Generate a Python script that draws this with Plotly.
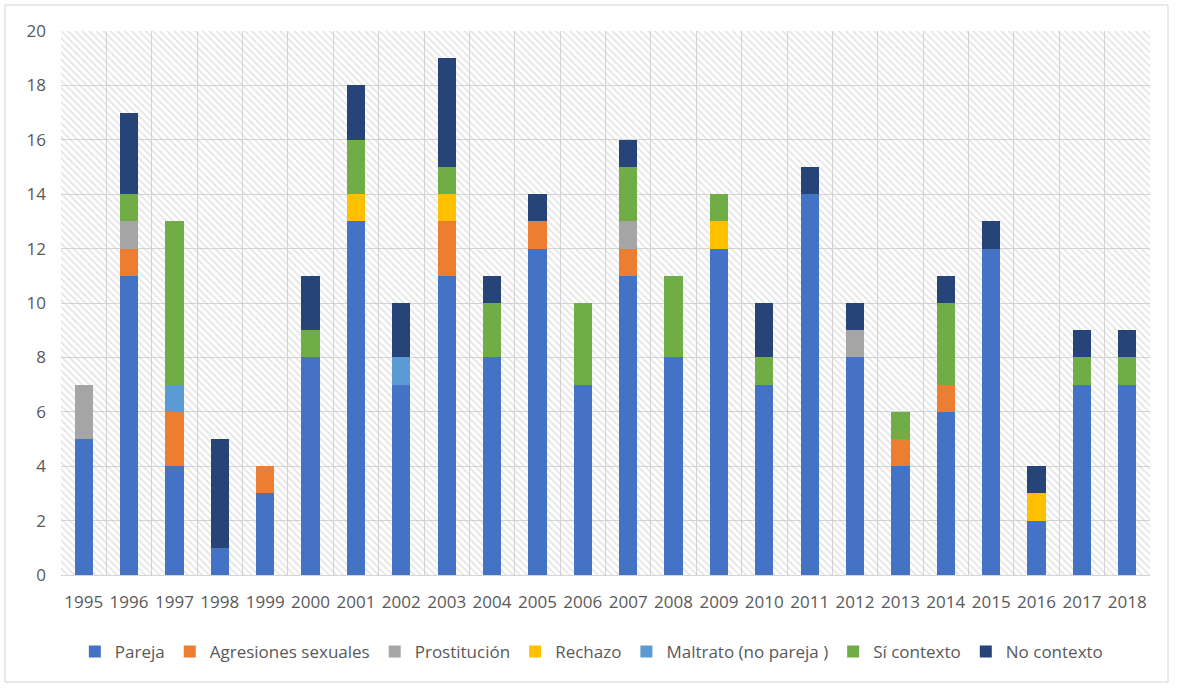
import plotly.graph_objects as go

# Yearly counts by category
years = [str(y) for y in range(1995, 2019)]

pareja =      [5, 11, 4, 1, 3, 8, 13, 7, 11, 8, 12, 7, 11, 8, 12, 7, 14, 8, 4, 6, 12, 2, 7, 7]
agresiones =  [0, 1, 2, 0, 1, 0, 0, 0, 2, 0, 1, 0, 1, 0, 0, 0, 0, 0, 1, 1, 0, 0, 0, 0]
prostitucion = [2, 1, 0, 0, 0, 0, 0, 0, 0, 0, 0, 0, 1, 0, 0, 0, 0, 1, 0, 0, 0, 0, 0, 0]
rechazo =     [0, 0, 0, 0, 0, 0, 1, 0, 1, 0, 0, 0, 0, 0, 1, 0, 0, 0, 0, 0, 0, 1, 0, 0]
maltrato =    [0, 0, 1, 0, 0, 0, 0, 1, 0, 0, 0, 0, 0, 0, 0, 0, 0, 0, 0, 0, 0, 0, 0, 0]
si_contexto = [0, 1, 6, 0, 0, 1, 2, 0, 1, 2, 0, 3, 2, 3, 1, 1, 0, 0, 1, 3, 0, 0, 1, 1]
no_contexto = [0, 3, 0, 4, 0, 2, 2, 2, 4, 1, 1, 0, 1, 0, 0, 2, 1, 1, 0, 1, 1, 1, 1, 1]

series_names = ["Pareja", "Agresiones sexuales", "Prostitución", "Rechazo",
                "Maltrato (no pareja )", "Sí contexto", "No contexto"]
series_values = [pareja, agresiones, prostitucion, rechazo, maltrato, si_contexto, no_contexto]
series_colors = ["#4472C4", "#ED7D31", "#A5A5A5", "#FFC000", "#5B9BD5", "#70AD47", "#264478"]

y_max = 20
y_step = 2

W, H = 1178, 690
ML, MR, MT, MB = 61, 28, 31, 115
plot_w = W - ML - MR
plot_h = H - MT - MB

FONT = "Open Sans"
GRID = "#d4d4d4"
TEXT = "#595959"

fig = go.Figure()

# hatched plot-area background on the base axes
fig.add_trace(go.Bar(
    x=years, y=[y_max] * len(years), width=1,
    marker=dict(color="rgba(0,0,0,0)", line_width=0,
                pattern=dict(shape="\\", fgcolor="#cccccc", bgcolor="rgba(0,0,0,0)",
                             size=5, solidity=0.35)),
    showlegend=False, hoverinfo="skip", xaxis="x", yaxis="y",
))

# stacked series on the overlaid axes
for name, vals, color in zip(series_names, series_values, series_colors):
    fig.add_trace(go.Bar(
        x=years, y=vals, name=name,
        marker=dict(color=color, line_width=0),
        xaxis="x2", yaxis="y2",
    ))

fig.update_layout(
    width=W, height=H,
    margin=dict(l=ML, r=MR, t=MT, b=MB),
    paper_bgcolor="white", plot_bgcolor="white",
    barmode="stack", bargap=0.6,
    font=dict(family=FONT, color=TEXT, size=17),
    xaxis=dict(type="category", categoryorder="array", categoryarray=years,
               range=[-0.5, len(years) - 0.5],
               tickson="boundaries", showgrid=True, gridcolor=GRID, gridwidth=1,
               ticks="", showline=True, linecolor=GRID, zeroline=False,
               tickangle=0, tickfont=dict(size=17, color=TEXT), ticklabelstandoff=12),
    yaxis=dict(range=[0, y_max], dtick=y_step, showgrid=True, gridcolor=GRID,
               gridwidth=1, zeroline=False, ticks="", showline=False,
               tickfont=dict(size=17, color=TEXT), ticklabelstandoff=14),
    xaxis2=dict(type="category", categoryorder="array", categoryarray=years,
                range=[-0.5, len(years) - 0.5], overlaying="x", visible=False),
    yaxis2=dict(range=[0, y_max], overlaying="y", visible=False),
    legend=dict(orientation="h", x=0.487, xanchor="center", y=(MB - 38) / plot_h * -1,
                yanchor="middle", traceorder="normal",
                font=dict(size=17, color=TEXT), itemwidth=30,
                bgcolor="rgba(0,0,0,0)"),
    showlegend=True,
)

# outer chart border
bx0, by0, bx1, by1 = 5, 5, 1168, 682
fig.add_shape(type="rect", xref="paper", yref="paper",
              x0=(bx0 - ML) / plot_w, x1=(bx1 - ML) / plot_w,
              y0=(H - MB - by1) / plot_h, y1=(H - MB - by0) / plot_h,
              line=dict(color=GRID, width=1), fillcolor="rgba(0,0,0,0)", layer="below")

fig.write_html("out.html")
